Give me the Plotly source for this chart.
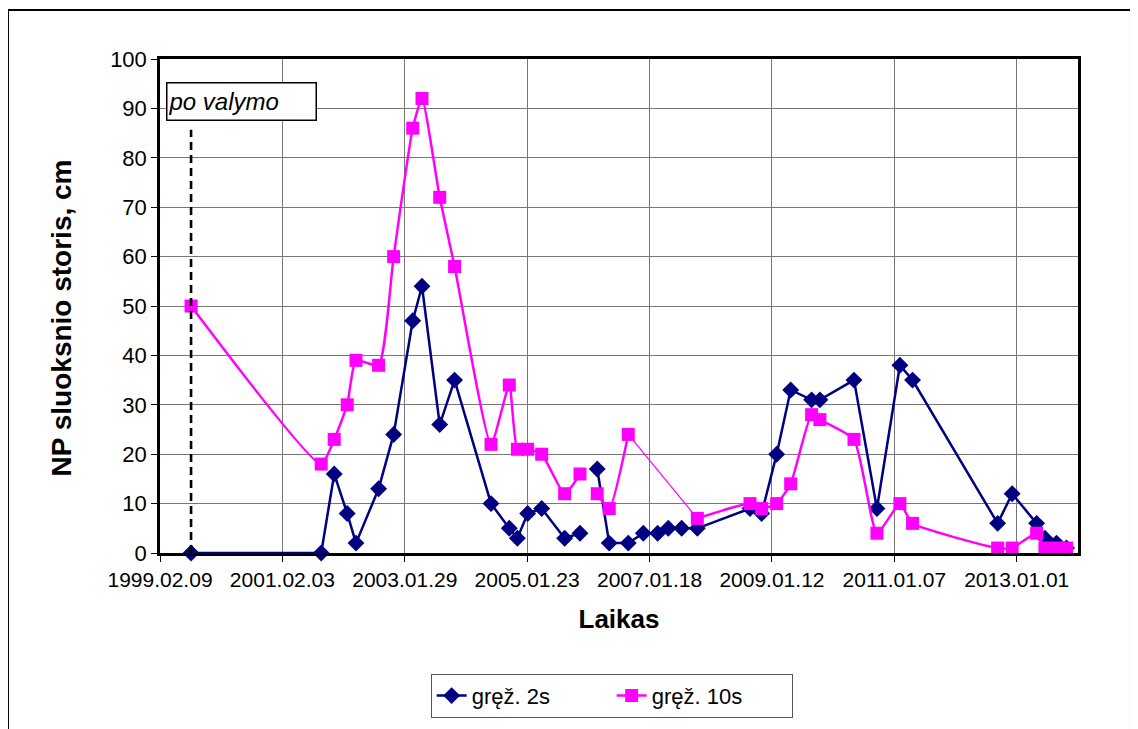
import plotly.graph_objects as go
from datetime import datetime

# ---- data ----
dates = [
    "1999-08-12", "2001-09-21", "2001-12-07", "2002-02-22", "2002-04-15",
    "2002-08-27", "2002-11-24", "2003-03-17", "2003-05-11", "2003-08-24",
    "2003-11-20", "2004-06-23", "2004-10-09", "2004-11-26", "2005-01-26",
    "2005-04-19", "2005-09-02", "2005-12-02", "2006-02-05", "2006-03-14",
    "2006-05-24", "2006-09-14", "2006-12-12", "2007-03-07", "2007-05-09",
    "2007-07-27", "2007-10-28", "2008-09-04", "2008-11-12", "2009-02-09",
    "2009-05-03", "2009-09-04", "2009-10-23", "2010-05-13", "2010-09-26",
    "2011-02-09", "2011-04-25", "2012-09-10", "2012-12-05", "2013-04-29",
    "2013-06-17", "2013-08-25", "2013-10-23",
]
grez_2s = [
    0, 0, 16, 8, 2,
    13, 24, 47, 54, 26,
    35, 10, 5, 3, 8,
    9, 3, 4, None, 17,
    2, 2, 4, 4, 5,
    5, 5, 9, 8, 20,
    33, 31, 31, 35, 9,
    38, 35, 6, 12, 6,
    3, 2, 1,
]
grez_10s = [
    50, 18, 23, 30, 39,
    38, 60, 86, 92, 72,
    58, 22, 34, 21, 21,
    20, 12, 16, None, 12,
    9, 24, None, None, None,
    None, 7, 10, 9, 10,
    14, 28, 27, 23, 4,
    10, 6, 1, 1, 4,
    1, 1, 1,
]
x_tick_labels = ["1999.02.09", "2001.02.03", "2003.01.29", "2005.01.23",
                 "2007.01.18", "2009.01.12", "2011.01.07", "2013.01.01"]
x_range = ["1999-02-09", "2013-12-30"]
cleaning_date = "1999-08-12"
series_names = ["gręž. 2s", "gręž. 10s"]

tick_vals = [datetime.strptime(t, "%Y.%m.%d").strftime("%Y-%m-%d") for t in x_tick_labels]

NAVY = "#000080"
MAGENTA = "#FF00FF"
FONT = "Arial, Liberation Sans, sans-serif"

fig = go.Figure()

# thin connecting segment of 10s series across missing values
idx_valid = [i for i, v in enumerate(grez_10s) if v is not None]
thin_x, thin_y = [], []
for a, b in zip(idx_valid[:-1], idx_valid[1:]):
    if b - a > 1 and all(grez_2s[k] is not None for k in range(a + 1, b)):
        thin_x += [dates[a], dates[b], None]
        thin_y += [grez_10s[a], grez_10s[b], None]
fig.add_trace(go.Scatter(x=thin_x, y=thin_y, mode="lines",
                         line=dict(color=MAGENTA, width=1.2),
                         showlegend=False, hoverinfo="skip", cliponaxis=False))

fig.add_trace(go.Scatter(
    x=dates, y=grez_2s, name=series_names[0], mode="lines+markers",
    line=dict(color=NAVY, width=2.5),
    marker=dict(symbol="diamond", size=13, color=NAVY),
    connectgaps=False, cliponaxis=False,
))
fig.add_trace(go.Scatter(
    x=dates, y=grez_10s, name=series_names[1], mode="lines+markers",
    line=dict(color=MAGENTA, width=2.5, shape="spline", smoothing=0.5),
    marker=dict(symbol="square", size=13, color=MAGENTA),
    connectgaps=False, cliponaxis=False,
))

# dashed cleaning line
fig.add_shape(type="line", xref="x", yref="y", x0=cleaning_date, x1=cleaning_date,
              y0=0, y1=85.7, line=dict(color="black", width=2.6, dash="8px,5px"))

# outer chart border
fig.add_shape(type="rect", xref="paper", yref="paper",
              x0=-0.1656, x1=1.0577, y0=-0.40, y1=1.099,
              line=dict(color="black", width=2), layer="below")

fig.add_annotation(
    xref="paper", yref="paper", x=0.0062, y=0.913, xanchor="left", yanchor="middle",
    text="<i>po valymo</i>", showarrow=False,
    font=dict(family=FONT, size=24, color="black"),
    bordercolor="black", borderwidth=1.5, bgcolor="white",
    width=146, height=34, align="left", borderpad=1,
)

# y axis title
fig.add_annotation(
    xref="paper", yref="paper", x=-0.1068, y=0.4768, xanchor="center", yanchor="middle",
    text="<b>NP sluoksnio storis, cm</b>", textangle=-90, showarrow=False,
    font=dict(family=FONT, size=28, color="black"),
)

fig.update_layout(
    width=1130, height=721,
    margin=dict(l=152, r=60, t=51, b=175),
    paper_bgcolor="white", plot_bgcolor="white",
    font=dict(family=FONT, color="black"),
    showlegend=True,
    legend=dict(orientation="h", x=0.492, xanchor="center", y=-0.242, yanchor="top",
                bordercolor="#555555", borderwidth=1,
                font=dict(family=FONT, size=22, color="black"),
                entrywidth=135, traceorder="normal"),
    xaxis=dict(
        type="date", range=x_range,
        tickvals=tick_vals, ticktext=x_tick_labels,
        tickfont=dict(family=FONT, size=21, color="black"),
        showgrid=True, gridcolor="#777777", gridwidth=1,
        showline=True, linecolor="black", linewidth=2.5, mirror=True,
        ticks="outside", ticklen=6, tickcolor="black", tickwidth=1,
        zeroline=False,
        title=dict(text="<b>Laikas</b>", font=dict(family=FONT, size=26, color="black"),
                   standoff=20),
    ),
    yaxis=dict(
        range=[0, 100], dtick=10, tick0=0,
        tickfont=dict(family=FONT, size=22, color="black"),
        showgrid=True, gridcolor="#777777", gridwidth=1,
        showline=True, linecolor="black", linewidth=2.5, mirror=True,
        ticks="outside", ticklen=6, tickcolor="black", tickwidth=1,
        zeroline=False,
    ),
)

fig.write_html("out.html")
